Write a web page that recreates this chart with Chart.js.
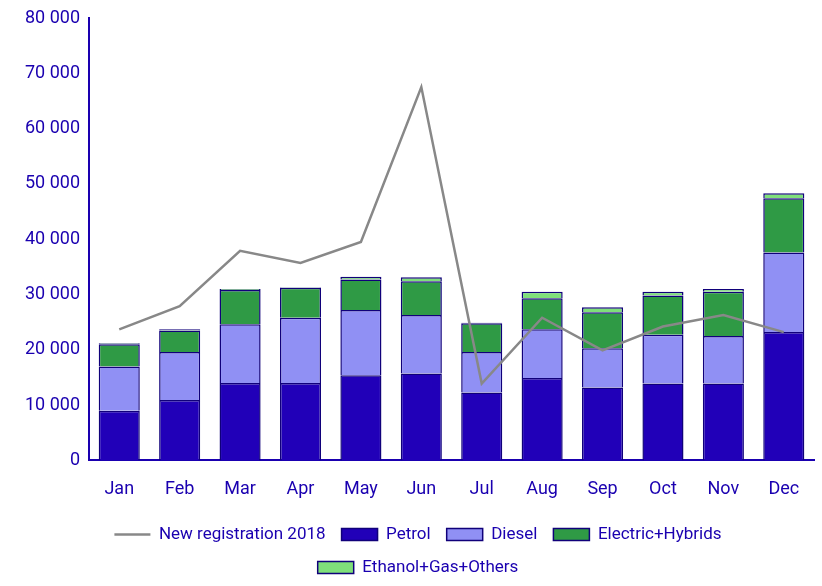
<!DOCTYPE html><html><head><script src="https://cdn.jsdelivr.net/npm/chart.js@4"></script>
<style>body{margin:0;background:#fff}#w{width:822px;height:586px}</style></head><body><div id="w"><canvas id="c"></canvas></div>
<script>
const months=["Jan","Feb","Mar","Apr","May","Jun","Jul","Aug","Sep","Oct","Nov","Dec"];
const petrol=[9000,10900,14000,14000,15400,15700,12300,14900,13200,13900,13900,23200];
const diesel=[8000,8700,10600,11800,11800,10600,7300,8800,7100,8800,8600,14400];
const electric=[4000,3900,6200,5400,5500,6100,5200,5600,6500,7100,8000,9800];
const others=[200,200,200,100,500,700,100,1200,900,700,500,900];
const reg2018=[23700,27900,37900,35700,39500,67500,13900,25800,19900,24200,26300,23200];
const blue="#1a00b0";
Chart.defaults.font.family="Roboto";Chart.defaults.font.size=18;Chart.defaults.color=blue;
const bar=(l,d,c)=>({type:'bar',label:l,data:d,backgroundColor:c,borderColor:"#10007a",borderWidth:1.5,stack:'s',barPercentage:0.68,categoryPercentage:1,order:2,pointStyle:'rect'});
new Chart(document.getElementById('c'),{data:{labels:months,datasets:[
bar("Petrol",petrol,"#2100b8"),bar("Diesel",diesel,"#9090f4"),bar("Electric+Hybrids",electric,"#2f9a45"),bar("Ethanol+Gas+Others",others,"#7fe07a"),
{type:'line',label:"New registration 2018",data:reg2018,borderColor:"#888",backgroundColor:"#888",borderWidth:2.5,pointRadius:0,stack:'l',order:1,tension:0,pointStyle:'line'}]},
options:{responsive:true,maintainAspectRatio:false,animation:false,layout:{padding:{left:22,right:8,top:18,bottom:0}},
plugins:{legend:{position:'bottom',labels:{usePointStyle:true,pointStyleWidth:36,boxHeight:12,padding:16,font:{size:17}}},tooltip:{enabled:false}},
scales:{x:{stacked:true,grid:{display:false},border:{color:blue,width:2},ticks:{padding:10}},
y:{stacked:true,min:0,max:80000,ticks:{stepSize:10000,callback:v=>v.toLocaleString('en').replace(/,/g,' ')},grid:{display:false,tickLength:6},border:{color:blue,width:2}}}}});
</script></body></html>
